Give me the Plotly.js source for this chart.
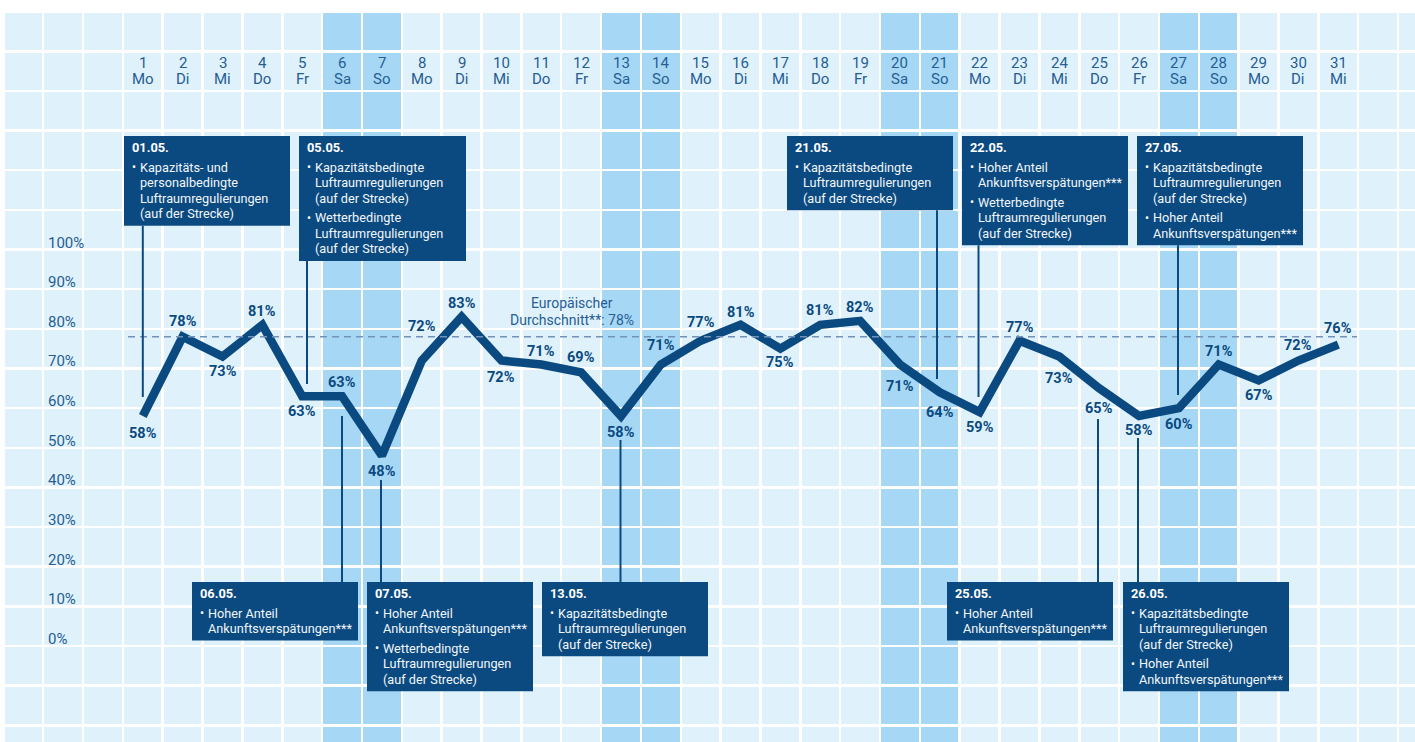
<!DOCTYPE html>
<html><head><meta charset="utf-8">
<script src="https://cdn.plot.ly/plotly-3.0.1.min.js"></script>
<style>html,body{margin:0;padding:0;background:#fff;}#chart{width:1415px;height:742px;}</style>
</head><body><div id="chart"></div>
<script>
// ---------- DATA ----------
const days = [1,2,3,4,5,6,7,8,9,10,11,12,13,14,15,16,17,18,19,20,21,22,23,24,25,26,27,28,29,30,31];
const weekdays = ['Mo','Di','Mi','Do','Fr','Sa','So','Mo','Di','Mi','Do','Fr','Sa','So','Mo','Di','Mi','Do','Fr','Sa','So','Mo','Di','Mi','Do','Fr','Sa','So','Mo','Di','Mi'];
const punctuality = [58,78,73,81,63,63,48,72,83,72,71,69,58,71,77,81,75,81,82,71,64,59,77,73,65,58,60,71,67,72,76];
const weekendDays = [6,7,13,14,20,21,27,28];
const yTickValues = [0,10,20,30,40,50,60,70,80,90,100];
const yTickLabels = ['0%','10%','20%','30%','40%','50%','60%','70%','80%','90%','100%'];
const europeAvg = 78;
const europeAvgLabel = ['Europäischer','Durchschnitt**: 78%'];
const noteDays = [1,5,6,7,13,21,22,25,26,27];
const noteTitles = ['01.05.','05.05.','06.05.','07.05.','13.05.','21.05.','22.05.','25.05.','26.05.','27.05.'];
const noteItems = [
  [['Kapazitäts- und','personalbedingte','Luftraumregulierungen','(auf der Strecke)']],
  [['Kapazitätsbedingte','Luftraumregulierungen','(auf der Strecke)'],['Wetterbedingte','Luftraumregulierungen','(auf der Strecke)']],
  [['Hoher Anteil','Ankunftsverspätungen***']],
  [['Hoher Anteil','Ankunftsverspätungen***'],['Wetterbedingte','Luftraumregulierungen','(auf der Strecke)']],
  [['Kapazitätsbedingte','Luftraumregulierungen','(auf der Strecke)']],
  [['Kapazitätsbedingte','Luftraumregulierungen','(auf der Strecke)']],
  [['Hoher Anteil','Ankunftsverspätungen***'],['Wetterbedingte','Luftraumregulierungen','(auf der Strecke)']],
  [['Hoher Anteil','Ankunftsverspätungen***']],
  [['Kapazitätsbedingte','Luftraumregulierungen','(auf der Strecke)'],['Hoher Anteil','Ankunftsverspätungen***']],
  [['Kapazitätsbedingte','Luftraumregulierungen','(auf der Strecke)'],['Hoher Anteil','Ankunftsverspätungen***']]
];

// ---------- LAYOUT / STYLE (pixel geometry) ----------
const W = 1415, H = 742;
const X0 = 142.8, DXP = 39.85;      // px of day 1, px per day
const Y0 = 646, DYP = 3.965;        // px of 0 %, px per %
const dX = px => 1 + (px - X0) / DXP;
const dY = py => (Y0 - py) / DYP;
// label vertical offsets (px, + = below point)
const labelOffset = [17,-15,15,-13,15,-14,16,-34,-13,17,-13,-15,16,-19,-18,-12,14,-14,-13,22,20,15,-13,22,20,14,16,-13,15,-15,-16];
// box geometry: left px, top px, width px, connector x px, connector end py
const boxGeom = [
  {l:124, t:136, w:166, cx:142.8, cy:397, top:true},
  {l:299, t:136, w:167, cx:307,   cy:384, top:true},
  {l:192, t:582, w:166, cx:342,   cy:416, top:false},
  {l:367, t:582, w:166, cx:381,   cy:480, top:false},
  {l:542, t:582, w:166, cx:620.5, cy:440, top:false},
  {l:787, t:136, w:166, cx:937,   cy:379, top:true},
  {l:962, t:136, w:166, cx:978.5, cy:397, top:true},
  {l:947, t:582, w:166, cx:1098,  cy:419, top:false},
  {l:1123,t:582, w:166, cx:1138,  cy:438, top:false},
  {l:1137,t:136, w:166, cx:1178,  cy:395, top:true}
];

const DARK = '#0b4a80';
const TXT = '#265d93';
const LIGHT = '#dff2fc';
const WEEKEND = '#a6d8f6';
const FONT = 'Roboto, "Open Sans", sans-serif';

const shapes = [];
const annotations = [];

// background field
shapes.push({type:'rect', layer:'below', xref:'x', yref:'y', x0:-2.5, x1:34, y0:-40, y1:160, fillcolor:LIGHT, line:{width:0}});
weekendDays.forEach(d => shapes.push({type:'rect', layer:'below', xref:'x', yref:'y', x0:d-0.5, x1:d+0.5, y0:-40, y1:160, fillcolor:WEEKEND, line:{width:0}}));

// average line
shapes.push({type:'line', layer:'above', xref:'x', yref:'y', x0:dX(128), x1:dX(1357), y0:europeAvg, y1:europeAvg, line:{color:'#7392ba', width:1.7, dash:'7px,5px'}});
annotations.push({xref:'x', yref:'y', x:dX(572), y:dY(303), text:europeAvgLabel[0], showarrow:false, xanchor:'center', yanchor:'middle', font:{family:FONT, size:14, color:TXT}});
annotations.push({xref:'x', yref:'y', x:dX(572), y:dY(320), text:europeAvgLabel[1], showarrow:false, xanchor:'center', yanchor:'middle', font:{family:FONT, size:14, color:TXT}});

// day header labels
days.forEach((d, i) => {
  annotations.push({xref:'x', yref:'y', x:d, y:dY(63), text:String(d), showarrow:false, xanchor:'center', yanchor:'middle', font:{family:FONT, size:15, color:TXT}});
  annotations.push({xref:'x', yref:'y', x:d, y:dY(78.5), text:weekdays[i], showarrow:false, xanchor:'center', yanchor:'middle', font:{family:FONT, size:15, color:TXT}});
});

// y labels
yTickValues.forEach((v, i) => {
  annotations.push({xref:'x', yref:'y', x:dX(46), y:v, yshift:7, text:yTickLabels[i], showarrow:false, xanchor:'left', yanchor:'middle', font:{family:FONT, size:15, color:TXT}});
});

// value labels
days.forEach((d, i) => {
  annotations.push({xref:'x', yref:'y', x:d, y:punctuality[i], yshift:-labelOffset[i], text:punctuality[i] + '%', showarrow:false, xanchor:'center', yanchor:'middle', font:{family:FONT, size:14.5, color:DARK, weight:700}});
});

// note boxes
const LH = 15.6, BGAP = 19.5;
noteDays.forEach((d, k) => {
  const g = boxGeom[k];
  const items = noteItems[k];
  let y = g.t + 31;
  const lines = [];
  items.forEach((it, j) => {
    if (j > 0) y += BGAP - LH;
    it.forEach((ln, m) => {
      lines.push({y:y, text:ln, bullet:m === 0});
      y += LH;
    });
  });
  const lastY = y - LH;
  const bottom = lastY + 12;
  shapes.push({type:'rect', layer:'above', xref:'x', yref:'y', x0:dX(g.l), x1:dX(g.l + g.w), y0:dY(bottom), y1:dY(g.t), fillcolor:DARK, line:{width:0}});
  // connector
  const cy0 = g.top ? bottom : g.t;
  shapes.push({type:'line', layer:'above', xref:'x', yref:'y', x0:dX(g.cx), x1:dX(g.cx), y0:dY(cy0), y1:dY(g.cy), line:{color:DARK, width:2}});
  annotations.push({xref:'x', yref:'y', x:dX(g.l + 6), y:dY(g.t + 11.5), text:noteTitles[k], showarrow:false, xanchor:'left', yanchor:'middle', font:{family:FONT, size:12.8, color:'#ffffff', weight:700}});
  lines.forEach(L => {
    if (L.bullet) annotations.push({xref:'x', yref:'y', x:dX(g.l + 6), y:dY(L.y), text:'•', showarrow:false, xanchor:'left', yanchor:'middle', font:{family:FONT, size:12, color:'#ffffff'}});
    annotations.push({xref:'x', yref:'y', x:dX(g.l + 14), y:dY(L.y), text:L.text, showarrow:false, xanchor:'left', yanchor:'middle', font:{family:FONT, size:12.7, color:'#f2f6fa'}});
  });
});

const gridVals = [];
for (let v = -2.5; v <= 33; v += 1) gridVals.push(v);

const trace = {
  x: days, y: punctuality, type:'scatter', mode:'lines',
  line:{color:DARK, width:8.5}, hoverinfo:'skip', cliponaxis:false
};

const layout = {
  width:W, height:H,
  margin:{l:0, r:0, t:0, b:0, pad:0},
  paper_bgcolor:'#ffffff', plot_bgcolor:'#ffffff',
  showlegend:false,
  xaxis:{range:[dX(0), dX(W)], tickvals:gridVals, showticklabels:false, ticks:'', showgrid:true, gridcolor:'#ffffff', gridwidth:2.5, zeroline:false, showline:false, fixedrange:true},
  yaxis:{range:[dY(H), dY(0)], tick0:0, dtick:10, showticklabels:false, ticks:'', showgrid:true, gridcolor:'#ffffff', gridwidth:2.5, zeroline:false, showline:false, fixedrange:true},
  shapes:shapes, annotations:annotations,
  font:{family:FONT}
};

Plotly.newPlot('chart', [trace], layout, {staticPlot:true, displayModeBar:false});
</script></body></html>
